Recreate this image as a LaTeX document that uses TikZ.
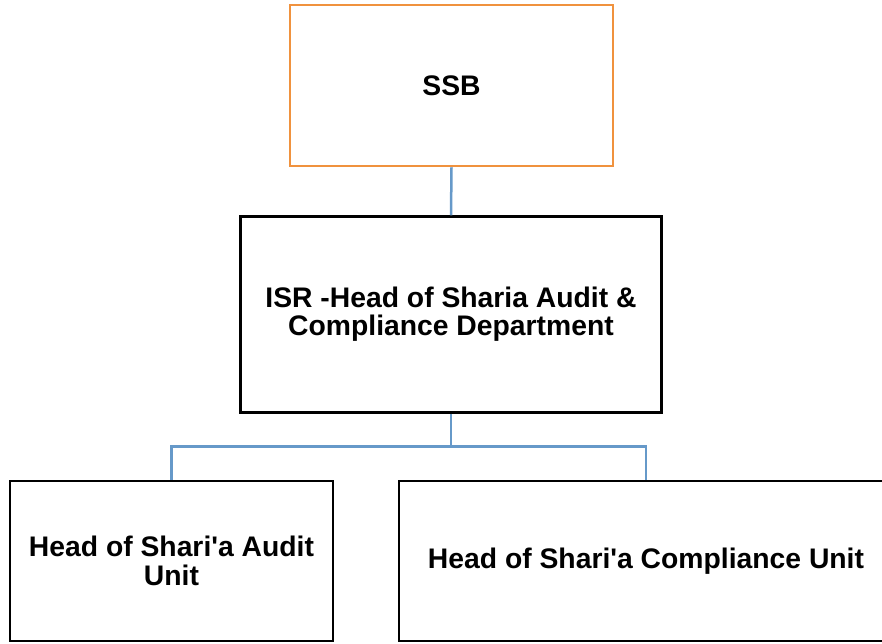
\documentclass[tikz,border=0pt]{standalone}
\usepackage{fontspec}
\setmainfont{Liberation Sans}
\definecolor{ssborange}{HTML}{F0923E}
\definecolor{linkblue}{HTML}{6699C9}
\tikzset{
  unit/.style={draw=black, line width=2.5pt, align=center, inner sep=0pt,
    font=\fontsize{28.3}{28.3}\selectfont\bfseries},
  link/.style={draw=linkblue, line width=2.5pt}
}
\begin{document}
\begin{tikzpicture}[x=1pt,y=-1pt]
      \useasboundingbox (0,0) rectangle (882,643);
      \draw
        (451.5,85.5) node[unit, draw=ssborange, minimum width=323pt, minimum height=161pt] (ssb){SSB}
        (451,314.5) node[unit, minimum width=421pt, minimum height=196pt] (isr){ISR -Head of Sharia Audit \&\\Compliance Department}
        (171.5,561) node[unit, minimum width=323pt, minimum height=160pt] (audit){Head of Shari\textquotesingle a Audit\\Unit}
        (646,561) node[unit, minimum width=494pt, minimum height=160pt] (compliance){Head of Shari\textquotesingle a Compliance Unit};
      \coordinate (fork) at (451,446.5);
      \begin{scope}[link]
        \draw (ssb.south) to (isr.north);
        \draw (isr.south) to (fork);
        \draw (fork) -| (audit.north);
        \draw (fork) -| (compliance.north);
      \end{scope}
    \end{tikzpicture}
\end{document}
